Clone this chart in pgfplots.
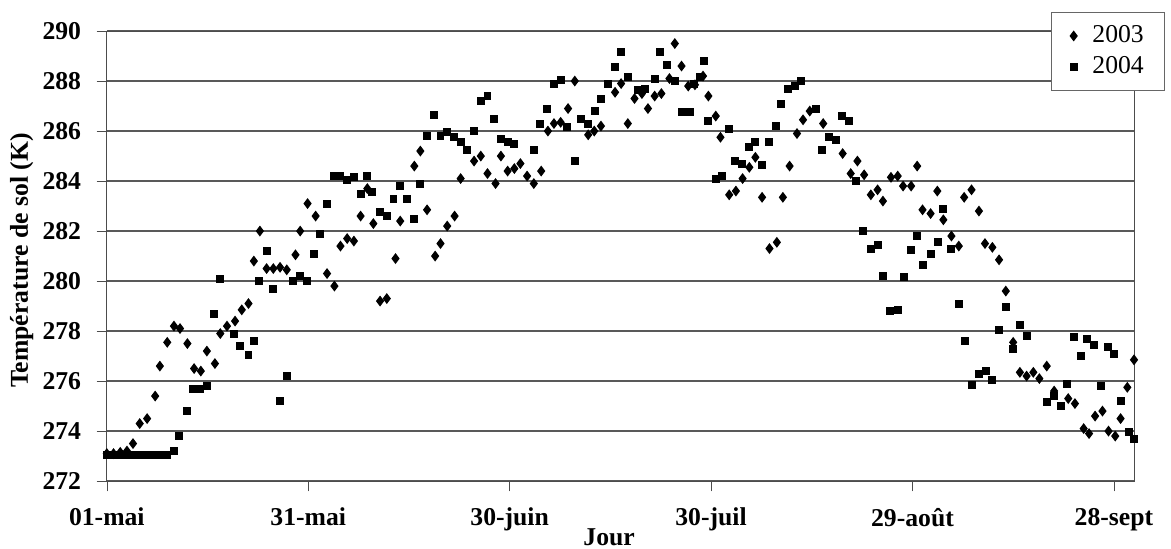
\documentclass[border=0pt]{standalone}
\usepackage{fontspec}
\setmainfont{Liberation Serif}
\usepackage{pgfplots}
\usepackage{pgfplotstable}
\pgfplotsset{compat=1.18}

% jour (0 = 01-mai), temperature (K)
\pgfplotstableread{
d T
0 273.1
1 273.1
2 273.15
3 273.2
3.9 273.5
4.9 274.3
6.0 274.5
7.2 275.4
7.9 276.6
9.0 277.55
10.0 278.2
10.9 278.1
12.0 277.5
13.0 276.5
14.0 276.4
14.9 277.2
16.1 276.7
16.9 277.9
17.9 278.2
19.1 278.4
20.1 278.85
21.1 279.1
21.9 280.8
22.8 282.0
23.8 280.5
24.8 280.5
25.8 280.55
26.8 280.45
28.1 281.05
28.8 282.0
29.9 283.1
31.1 282.6
32.8 280.3
33.9 279.8
34.8 281.4
35.8 281.7
36.8 281.6
37.8 282.6
38.8 283.7
39.7 282.3
40.7 279.2
41.7 279.3
43.0 280.9
43.7 282.4
45.8 284.6
46.7 285.2
47.7 282.85
48.9 281.0
49.7 281.5
50.7 282.2
51.8 282.6
52.7 284.1
54.7 284.8
55.7 285.0
56.7 284.3
57.9 283.9
58.7 285.0
59.7 284.4
60.7 284.5
61.6 284.7
62.6 284.2
63.6 283.9
64.7 284.4
65.7 286.0
66.6 286.3
67.6 286.35
68.7 286.9
69.7 288.0
71.7 285.85
72.6 286.0
73.6 286.2
75.7 287.55
76.6 287.9
77.6 286.3
78.6 287.3
79.7 287.5
80.6 286.9
81.6 287.4
82.6 287.5
83.8 288.1
84.6 289.5
85.6 288.6
86.6 287.8
87.6 287.85
88.8 288.2
89.6 287.4
90.7 286.6
91.4 285.75
92.7 283.45
93.7 283.6
94.7 284.1
95.7 284.55
96.6 284.95
97.6 283.35
98.7 281.3
99.8 281.55
100.7 283.35
101.7 284.6
102.8 285.9
103.7 286.45
104.7 286.8
106.7 286.3
109.6 285.1
110.8 284.3
111.8 284.8
112.8 284.25
113.8 283.45
114.8 283.65
115.6 283.2
116.8 284.15
117.8 284.2
118.6 283.8
119.8 283.8
120.7 284.6
121.5 282.85
122.7 282.7
123.7 283.6
124.6 282.45
125.8 281.8
126.9 281.4
127.7 283.35
128.8 283.65
129.9 282.8
130.8 281.5
131.9 281.35
132.9 280.85
133.9 279.6
135.0 277.55
136.0 276.35
137.0 276.2
138.0 276.35
138.9 276.1
140.0 276.6
141.1 275.6
143.2 275.3
144.2 275.1
145.5 274.1
146.3 273.9
147.2 274.6
148.3 274.8
149.2 274.0
150.2 273.8
151.0 274.5
152.0 275.75
153.0 276.85
}\annee

\pgfplotstableread{
d T
0 273.05
1 273.05
2 273.05
3 273.05
4 273.05
5 273.05
6 273.05
7 273.05
8 273.05
9 273.05
10.0 273.2
10.8 273.8
12.0 274.8
12.9 275.7
13.9 275.7
14.9 275.8
16.0 278.7
16.9 280.1
18.9 277.9
19.9 277.4
21.1 277.05
21.9 277.6
22.7 280.0
23.8 281.2
24.8 279.7
25.8 275.2
26.9 276.2
27.8 280.0
28.8 280.2
29.8 280.0
30.8 281.1
31.8 281.9
32.8 283.1
33.8 284.2
34.8 284.2
35.8 284.05
36.8 284.15
37.8 283.5
38.8 284.2
39.5 283.55
40.7 282.75
41.7 282.6
42.7 283.3
43.7 283.8
44.7 283.3
45.7 282.5
46.6 283.9
47.7 285.8
48.7 286.65
49.7 285.8
50.7 285.95
51.7 285.75
52.7 285.55
53.7 285.25
54.7 286.0
55.7 287.2
56.7 287.4
57.7 286.5
58.7 285.7
59.7 285.55
60.7 285.5
63.6 285.25
64.5 286.3
65.6 286.9
66.6 287.9
67.6 288.05
68.6 286.15
69.7 284.8
70.6 286.5
71.6 286.3
72.7 286.8
73.6 287.3
74.6 287.9
75.7 288.55
76.6 289.15
77.6 288.15
79.1 287.65
80.1 287.7
81.6 288.1
82.4 289.15
83.5 288.65
84.6 288.0
85.6 286.75
86.8 286.75
87.5 287.9
88.3 288.15
89.0 288.8
89.6 286.4
90.7 284.1
91.6 284.2
92.6 286.1
93.6 284.8
94.6 284.7
95.6 285.35
96.6 285.55
97.6 284.65
98.7 285.55
99.7 286.2
100.4 287.1
101.5 287.7
102.5 287.8
103.4 288.0
105.7 286.9
106.5 285.25
107.5 285.75
108.6 285.65
109.5 286.6
110.6 286.4
111.6 284.0
112.6 282.0
113.8 281.3
114.8 281.45
115.6 280.2
116.6 278.8
117.8 278.85
118.7 280.15
119.8 281.25
120.7 281.8
121.5 280.65
122.7 281.1
123.8 281.55
124.6 282.9
125.8 281.3
126.9 279.1
127.8 277.6
128.9 275.85
129.9 276.3
130.9 276.4
131.9 276.05
132.9 278.05
133.9 278.95
135.0 277.3
136.0 278.25
137.0 277.8
140.0 275.15
141.1 275.4
142.1 275.0
143.0 275.9
144.0 277.75
145.1 277.0
146.0 277.7
147.0 277.45
148.1 275.8
149.1 277.35
150.0 277.1
151.0 275.2
152.2 273.95
153.0 273.7
}\anneeb

\begin{document}
\begin{tikzpicture}
\begin{axis}[
  scale only axis,
  width=14.06cm, height=6.16cm,
  xmin=0, xmax=153, ymin=272, ymax=290,
  xtick={0,30,60,90,120,150},
  xticklabels={01-mai,31-mai,30-juin,30-juil,29-août,28-sept},
  ytick={272,274,...,290},
  ymajorgrids,
  grid style={black!65, line width=0.5pt},
  axis line style={black!70},
  tick style={black!70},
  tick align=outside, tick pos=left, major tick length=4pt,
  /pgf/number format/assume math mode=true,
  ticklabel style={font=\bfseries},
  yticklabel style={xshift=-2.5pt},
  xticklabel style={yshift=-3pt},
  xlabel={Jour}, ylabel={Température de sol (K)},
  label style={font=\bfseries},
  xlabel style={at={(axis description cs:0.489,-0.124)}, anchor=center},
  ylabel style={at={(axis description cs:-0.083,0.49)}, anchor=center},
  legend image code/.code={
    \path[draw=none] (0pt,0pt) rectangle (8pt,0pt);
    \draw[#1] plot coordinates {(2.7pt,0pt)};},
  legend style={at={(1.030,1.042)}, anchor=north east, draw=black!60,
    font=\normalsize, cells={anchor=west}, inner xsep=6pt, inner ysep=3pt},
]
\addplot[only marks, mark=diamond*, mark size=1.8pt, black] table[x=d, y=T] {\annee};
\addlegendentry{2003}
\addplot[only marks, mark=square*, mark size=1.35pt, black] table[x=d, y=T] {\anneeb};
\addlegendentry{2004}
\coordinate (bl) at (axis description cs:-0.104,-0.149);
\coordinate (tr) at (axis description cs:1.036,1.069);
\end{axis}
\pgfresetboundingbox
\path[use as bounding box] (bl) rectangle (tr);
\end{tikzpicture}
\end{document}
